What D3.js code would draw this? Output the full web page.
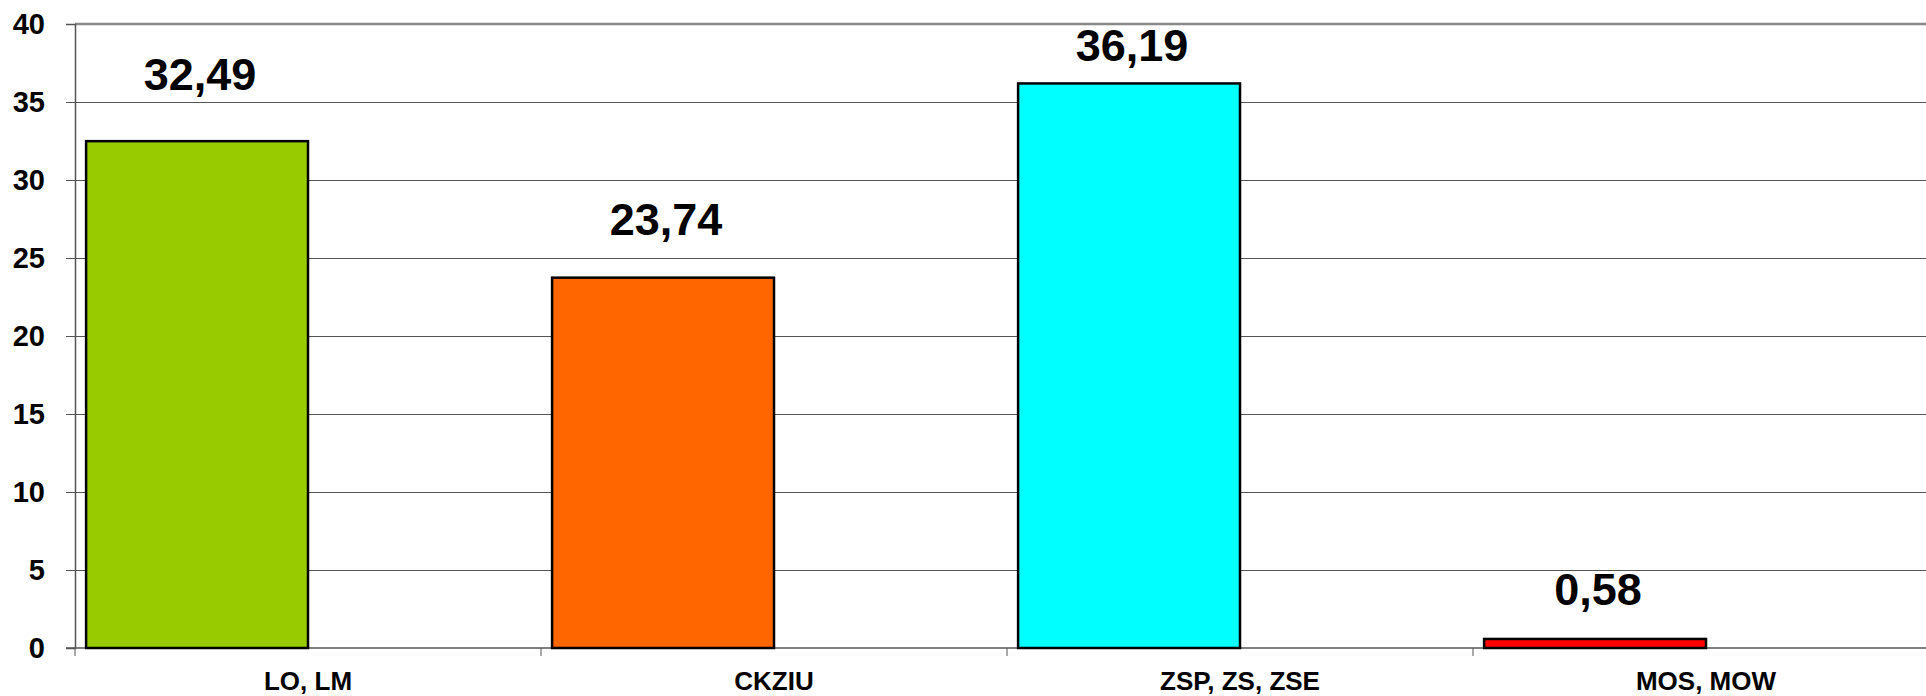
<!DOCTYPE html>
<html>
<head>
<meta charset="utf-8">
<script src="https://cdn.jsdelivr.net/npm/d3@7"></script>
<style>
  body { margin: 0; background: #fff; }
  svg { display: block; font-family: "Liberation Sans", Arial, sans-serif; font-weight: bold; }
</style>
</head>
<body>
<script>
// values
var categories = ["LO, LM", "CKZIU", "ZSP, ZS, ZSE", "MOS, MOW"];
var values = [32.49, 23.74, 36.19, 0.58];
var barColors = ["#99cc00", "#ff6600", "#00ffff", "#ff0000"];
var yTicks = [0, 5, 10, 15, 20, 25, 30, 35, 40];
// distance of each value label above its bar (labels were placed by hand)
var labelGap = [51, 43, 22, 34];

var width = 1926, height = 696;
var plotLeft = 75, plotTop = 24, plotBottom = 648;
var bandStep = 466;

var svg = d3.select("body").append("svg")
    .attr("width", width)
    .attr("height", height);

var y = d3.scaleLinear().domain([0, 40]).range([plotBottom, plotTop]);

// chart is cut off at the right edge, so the last band runs past the page
var x0 = d3.scaleBand().domain(categories)
    .range([plotLeft, plotLeft + bandStep * categories.length])
    .padding(0);

// two series slots per category, second one empty
var x1 = d3.scaleBand().domain(["a", "b"])
    .range([0, x0.bandwidth()])
    .paddingInner(0)
    .paddingOuter(0.05);

var comma = d3.formatLocale({ decimal: ",", thousands: " ", grouping: [3], currency: ["", ""] }).format(".2f");

// gridlines
var grid = svg.append("g")
    .attr("transform", "translate(" + plotLeft + ",0)")
    .call(d3.axisLeft(y).tickValues(yTicks.slice(1, -1)).tickSize(-(width - plotLeft)).tickFormat(""));
grid.select(".domain").remove();
grid.selectAll("line").attr("stroke", "#555").attr("stroke-width", 1);

// top border of plot area
svg.append("line")
    .attr("x1", plotLeft).attr("x2", width)
    .attr("y1", y(40)).attr("y2", y(40))
    .attr("stroke", "#888").attr("stroke-width", 2.5);

// y axis
var yAxis = svg.append("g")
    .attr("transform", "translate(" + plotLeft + ",0)")
    .call(d3.axisLeft(y).tickValues(yTicks).tickSize(9).tickPadding(21));
yAxis.select(".domain").attr("stroke", "#555").attr("stroke-width", 1.5);
yAxis.selectAll("line").attr("stroke", "#555");
yAxis.selectAll("text")
    .attr("fill", "#000")
    .style("font-size", "29px")
    .style("font-family", "'Liberation Sans', Arial, sans-serif")
    .style("font-weight", "bold");

// x axis line + ticks at band boundaries
svg.append("line")
    .attr("x1", plotLeft - 9).attr("x2", width)
    .attr("y1", y(0)).attr("y2", y(0))
    .attr("stroke", "#555").attr("stroke-width", 1.5);

svg.selectAll(".xtick")
    .data(categories)
    .enter().append("line")
    .attr("class", "xtick")
    .attr("x1", function (d) { return x0(d); })
    .attr("x2", function (d) { return x0(d); })
    .attr("y1", y(0)).attr("y2", y(0) + 8)
    .attr("stroke", "#555");

var xAxis = svg.append("g")
    .attr("transform", "translate(0," + y(0) + ")")
    .call(d3.axisBottom(x0).tickSize(0).tickPadding(24));
xAxis.select(".domain").remove();
xAxis.selectAll("text")
    .attr("fill", "#000")
    .style("font-size", "26px")
    .style("font-family", "'Liberation Sans', Arial, sans-serif")
    .style("font-weight", "bold");

// bars
svg.selectAll(".bar")
    .data(values)
    .enter().append("rect")
    .attr("class", "bar")
    .attr("x", function (d, i) { return x0(categories[i]) + x1("a"); })
    .attr("y", function (d) { return y(d); })
    .attr("width", x1.bandwidth())
    .attr("height", function (d) { return y(0) - y(d); })
    .attr("fill", function (d, i) { return barColors[i]; })
    .attr("stroke", "#000")
    .attr("stroke-width", 2.5);

// value labels
svg.selectAll(".val")
    .data(values)
    .enter().append("text")
    .attr("class", "val")
    .attr("x", function (d, i) { return x0(categories[i]) + x1("a") + x1.bandwidth() / 2 + 3; })
    .attr("y", function (d, i) { return y(d) - labelGap[i]; })
    .attr("text-anchor", "middle")
    .style("font-size", "45px")
    .text(function (d) { return comma(d); });
</script>
</body>
</html>
